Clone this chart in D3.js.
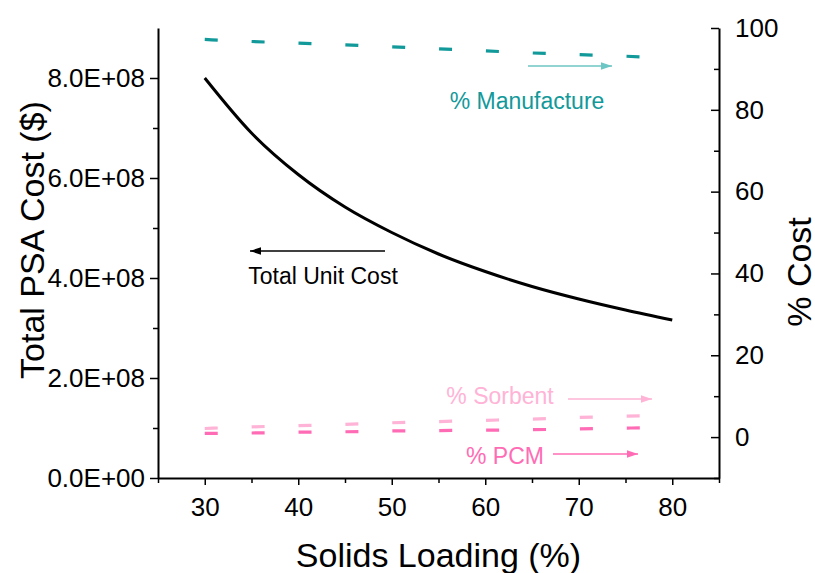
<!DOCTYPE html>
<html>
<head>
<meta charset="utf-8">
<script src="https://cdn.jsdelivr.net/npm/d3@7"></script>
<style>
  body { margin: 0; background: #fff; }
  svg { display: block; }
  text { font-family: "Liberation Sans", Arial, sans-serif; }
</style>
</head>
<body>
<svg id="chart" width="815" height="573"></svg>
<script>
// Solids loading (%) on the x axis
const solidsLoading = [30, 35, 40, 45, 50, 55, 60, 65, 70, 75, 80];
// Total PSA cost ($), left axis
const totalUnitCost = [8.00e8, 6.90e8, 6.07e8, 5.42e8, 4.91e8, 4.48e8, 4.13e8, 3.83e8, 3.58e8, 3.36e8, 3.16e8];
// Cost shares (%), right axis
const pctManufacture = [97.2, 96.7, 96.3, 95.9, 95.4, 94.9, 94.4, 93.9, 93.5, 93.1, 92.6];
const pctSorbent = [2.1, 2.5, 2.8, 3.1, 3.5, 3.8, 4.1, 4.4, 4.8, 5.1, 5.4];
const pctPCM = [0.9, 1.0, 1.2, 1.3, 1.5, 1.6, 1.7, 1.8, 2.0, 2.2, 2.3];

const xTicks = [30, 40, 50, 60, 70, 80];
const xMinorTicks = [25, 35, 45, 55, 65, 75, 85];
const costTicks = [0, 2e8, 4e8, 6e8, 8e8];
const costMinorTicks = [1e8, 3e8, 5e8, 7e8];
const pctTicks = [0, 20, 40, 60, 80, 100];
const pctMinorTicks = [-10, 10, 30, 50, 70, 90];

const colors = {
  cost: "#000000",
  manufacture: "#12999a",
  manufactureArrow: "#6cc6c3",
  sorbent: "#ffb3d6",
  pcm: "#ff6cb5"
};

const svg = d3.select("#chart");
const plotLeft = 158, plotRight = 719, plotTop = 28, plotBottom = 478;

const x = d3.scaleLinear().domain([25, 85]).range([plotLeft, plotRight]);
const yCost = d3.scaleLinear().domain([0, 9e8]).range([plotBottom, plotTop]);
const yPct = d3.scaleLinear().domain([-10, 100]).range([plotBottom, plotTop]);

function sci(d) {
  const [m, e] = d.toExponential(1).split("e");
  const n = +e;
  return m + "E" + (n < 0 ? "-" : "+") + String(Math.abs(n)).padStart(2, "0");
}

// marker defs for annotation arrows
const defs = svg.append("defs");
function arrowMarker(id, color) {
  defs.append("marker")
    .attr("id", id)
    .attr("viewBox", "0 0 10 10")
    .attr("refX", 10).attr("refY", 5)
    .attr("markerWidth", 11).attr("markerHeight", 11)
    .attr("markerUnits", "userSpaceOnUse")
    .attr("orient", "auto")
    .append("path")
    .attr("d", "M0,1.5 L10,5 L0,8.5 Z")
    .attr("fill", color);
}
arrowMarker("arr-cost", colors.cost);
arrowMarker("arr-man", colors.manufactureArrow);
arrowMarker("arr-sor", colors.sorbent);
arrowMarker("arr-pcm", colors.pcm);

// Axes
const axisFont = 26;
function styleAxis(g) {
  g.select(".domain").attr("stroke", "#000").attr("stroke-width", 2);
  g.selectAll(".tick line").attr("stroke", "#000").attr("stroke-width", 1.5);
  g.selectAll(".tick text").attr("font-size", axisFont).attr("fill", "#000")
    .style("font-family", "'Liberation Sans', Arial, sans-serif");
}
function minorTicks(g) {
  g.select(".domain").remove();
  g.selectAll(".tick line").attr("stroke", "#000").attr("stroke-width", 1.5);
}

// bottom axis
svg.append("g").attr("transform", `translate(0,${plotBottom})`)
  .call(d3.axisBottom(x).tickValues(xTicks).tickSize(7).tickPadding(13).tickSizeOuter(0))
  .call(styleAxis);
svg.append("g").attr("transform", `translate(0,${plotBottom})`)
  .call(d3.axisBottom(x).tickValues(xMinorTicks).tickSize(5).tickFormat(""))
  .call(minorTicks);

// left axis
svg.append("g").attr("transform", `translate(${plotLeft},0)`)
  .call(d3.axisLeft(yCost).tickValues(costTicks).tickFormat(sci).tickSize(8).tickPadding(5).tickSizeOuter(0))
  .call(styleAxis);
svg.append("g").attr("transform", `translate(${plotLeft},0)`)
  .call(d3.axisLeft(yCost).tickValues(costMinorTicks).tickSize(5).tickFormat(""))
  .call(minorTicks);

// right axis (ticks point inward)
svg.append("g").attr("transform", `translate(${plotRight},0)`)
  .call(d3.axisRight(yPct).tickValues(pctTicks).tickSize(-8).tickPadding(16).tickSizeOuter(0))
  .call(styleAxis);
svg.append("g").attr("transform", `translate(${plotRight},0)`)
  .call(d3.axisRight(yPct).tickValues(pctMinorTicks).tickSize(-5).tickFormat(""))
  .call(minorTicks);

// Axis titles
const titleFont = 34;
svg.append("text")
  .attr("transform", `translate(${44},${240}) rotate(-90)`)
  .attr("text-anchor", "middle")
  .attr("font-size", titleFont)
  .text("Total PSA Cost ($)");
svg.append("text")
  .attr("x", (plotLeft + plotRight) / 2).attr("y", 567)
  .attr("text-anchor", "middle")
  .attr("font-size", titleFont)
  .text("Solids Loading (%)");
svg.append("text")
  .attr("transform", `translate(${811},${272}) rotate(-90)`)
  .attr("text-anchor", "middle")
  .attr("font-size", titleFont)
  .text("% Cost");

// Series
const step = x(35) - x(30);
const dashPattern = `13,${(step - 13 + 0.15).toFixed(2)}`;

const lineCost = d3.line().x((d, i) => x(solidsLoading[i])).y(d => yCost(d)).curve(d3.curveMonotoneX);
const linePct = d3.line().x((d, i) => x(solidsLoading[i])).y(d => yPct(d)).curve(d3.curveMonotoneX);

svg.append("path").datum(totalUnitCost)
  .attr("d", lineCost).attr("fill", "none")
  .attr("stroke", colors.cost).attr("stroke-width", 3);

[[pctManufacture, colors.manufacture], [pctSorbent, colors.sorbent], [pctPCM, colors.pcm]].forEach(([vals, c]) => {
  svg.append("path").datum(vals)
    .attr("d", linePct).attr("fill", "none")
    .attr("stroke", c).attr("stroke-width", 3.2)
    .attr("stroke-dasharray", dashPattern);
});

// Annotations
const annFont = 23;
function annotate(label, color, tx, ty, x1, y1, x2, y2, marker, arrowColor) {
  svg.append("line")
    .attr("x1", x1).attr("y1", y1).attr("x2", x2).attr("y2", y2)
    .attr("stroke", arrowColor).attr("stroke-width", 1.5)
    .attr("marker-end", `url(#${marker})`);
  svg.append("text")
    .attr("x", tx).attr("y", ty)
    .attr("text-anchor", "middle")
    .attr("font-size", annFont)
    .attr("fill", color)
    .text(label);
}
annotate("% Manufacture", colors.manufacture, 527, 109, 528, 66, 612, 66, "arr-man", colors.manufactureArrow);
annotate("Total Unit Cost", "#000", 323, 284, 385, 251, 250, 251, "arr-cost", colors.cost);
annotate("% Sorbent", colors.sorbent, 500, 404, 568, 399, 652, 399, "arr-sor", colors.sorbent);
annotate("% PCM", colors.pcm, 505, 464, 553, 454, 638, 454, "arr-pcm", colors.pcm);
</script>
</body>
</html>
